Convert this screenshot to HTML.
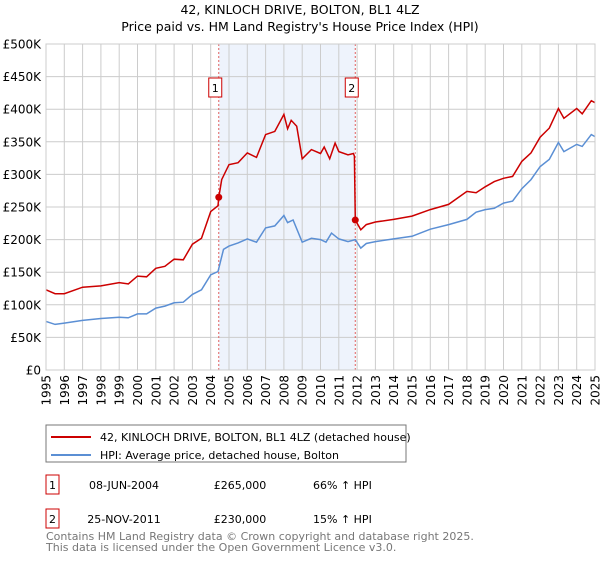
<!DOCTYPE html>
<html><head><meta charset="utf-8"><style>
body{margin:0;background:#fff;width:600px;height:560px;overflow:hidden;font-family:"Liberation Sans","DejaVu Sans",sans-serif}
svg text{font-family:"DejaVu Sans","Liberation Sans",sans-serif}
</style></head><body>
<svg id="c" width="600" height="560" xmlns="http://www.w3.org/2000/svg">
<text x="300" y="14" font-size="12.5" text-anchor="middle" fill="#000">42, KINLOCH DRIVE, BOLTON, BL1 4LZ</text>
<text x="300" y="31" font-size="12.5" text-anchor="middle" fill="#000">Price paid vs. HM Land Registry's House Price Index (HPI)</text>
<g id="plot"></g>
<rect x="46" y="425" width="360" height="37" fill="#fff" stroke="#777"/>
<line x1="51" y1="437" x2="91" y2="437" stroke="#cc0000" stroke-width="2"/>
<text x="100" y="441" font-size="11">42, KINLOCH DRIVE, BOLTON, BL1 4LZ (detached house)</text>
<line x1="51" y1="455" x2="91" y2="455" stroke="#5b8fd4" stroke-width="2"/>
<text x="100" y="459" font-size="11">HPI: Average price, detached house, Bolton</text>
<g>
<rect x="46" y="475" width="13" height="19" fill="#fff" stroke="#cc0000"/>
<text x="52.5" y="489" font-size="11" text-anchor="middle">1</text>
<text x="124" y="489" font-size="11" text-anchor="middle">08-JUN-2004</text>
<text x="240" y="489" font-size="11" text-anchor="middle">£265,000</text>
<text x="313" y="489" font-size="11" text-anchor="start">66% ↑ HPI</text>
</g>
<g>
<rect x="46" y="509" width="13" height="19" fill="#fff" stroke="#cc0000"/>
<text x="52.5" y="523" font-size="11" text-anchor="middle">2</text>
<text x="124" y="523" font-size="11" text-anchor="middle">25-NOV-2011</text>
<text x="240" y="523" font-size="11" text-anchor="middle">£230,000</text>
<text x="313" y="523" font-size="11" text-anchor="start">15% ↑ HPI</text>
</g>
<text x="46" y="540" font-size="11" fill="#777">Contains HM Land Registry data © Crown copyright and database right 2025.</text>
<text x="46" y="551" font-size="11" fill="#777">This data is licensed under the Open Government Licence v3.0.</text>
</svg>
<script>
const years=[1995,1996,1997,1998,1999,2000,2001,2002,2003,2004,2005,2006,2007,2008,2009,2010,2011,2012,2013,2014,2015,2016,2017,2018,2019,2020,2021,2022,2023,2024,2025];
const yTicks=[0,50,100,150,200,250,300,350,400,450,500];
const hpiT=[1995,1995.5,1996,1997,1998,1999,1999.5,2000,2000.5,2001,2001.5,2002,2002.5,2003,2003.5,2004,2004.4,2004.7,2005,2005.5,2006,2006.5,2007,2007.5,2008,2008.2,2008.5,2009,2009.5,2010,2010.3,2010.6,2011,2011.5,2011.9,2012.2,2012.5,2013,2014,2015,2016,2017,2018,2018.5,2019,2019.5,2020,2020.5,2021,2021.5,2022,2022.5,2023,2023.3,2024,2024.3,2024.8,2025];
const hpiV=[74.6,70,72,76,79,81,80,86,86,95,98,103,104,116,123,146,151,185,190,195,201,196,218,221,237,226,230,196,202,200,196,210,201,197,200,187,194,197,201,205,216,223,231,242,246,248,256,259,278,292,312,323,349,335,346,343,361,358];
const priceT=[1995,1995.5,1996,1997,1998,1999,1999.5,2000,2000.5,2001,2001.5,2002,2002.5,2003,2003.5,2004,2004.4,2004.44,2004.6,2005,2005.5,2006,2006.5,2007,2007.5,2008,2008.2,2008.4,2008.7,2009,2009.5,2010,2010.2,2010.5,2010.8,2011,2011.5,2011.8,2011.85,2011.9,2012.2,2012.5,2013,2014,2015,2016,2017,2018,2018.5,2019,2019.5,2020,2020.5,2021,2021.5,2022,2022.5,2023,2023.3,2024,2024.3,2024.8,2025];
const priceV=[123,117,117,127,129,134,132,144,143,156,159,170,169,193,202,243,252,265,292,315,318,333,326,361,366,392,370,383,374,324,338,332,342,324,348,335,330,332,328,230,215,223,227,231,236,246,254,274,272,281,289,294,297,320,333,357,371,401,386,401,393,413,410];
const saleT=[2004.44,2011.9];
const saleV=[265,230];
const saleLabels=["1","2"];
const X0=46,X1=595,Y0=370,Y1=44;
const xs=t=>X0+(t-1995)/30*(X1-X0);
const ys=v=>Y0-v/500*(Y0-Y1);
const NS="http://www.w3.org/2000/svg";
const g=document.getElementById('plot');
function mk(tag,attrs){const e=document.createElementNS(NS,tag);for(const k in attrs)e.setAttribute(k,attrs[k]);g.appendChild(e);return e;}
let sh=mk('rect',{x:xs(saleT[0]),y:Y1,width:xs(saleT[1])-xs(saleT[0]),height:Y0-Y1,fill:'#eef3fc'});


years.forEach(y=>{const l=mk('line',{x1:xs(y),x2:xs(y),y1:Y1,y2:Y0,stroke:'#cccccc','stroke-width':1});


const t=mk('text',{x:0,y:0,'font-size':12,'text-anchor':'end',transform:`translate(${xs(y)+4.5},375) rotate(-90)`});t.textContent=y;

});
yTicks.forEach(v=>{const l=mk('line',{x1:X0,x2:X1,y1:ys(v),y2:ys(v),stroke:'#cccccc','stroke-width':1});


const t=mk('text',{x:41,y:ys(v)+4.5,'font-size':12,'text-anchor':'end'});t.textContent=v===0?'£0':'£'+v+'K';

});
saleT.forEach((s,i)=>{const l=mk('line',{x1:xs(s),x2:xs(s),y1:Y1,y2:Y0,stroke:'#e06060','stroke-width':1,'stroke-dasharray':'2,2'});

});
function path(T,V,color,name){const d=T.map((t,i)=>(i?'L':'M')+xs(t).toFixed(1)+','+ys(V[i]).toFixed(1)).join('');
const p=mk('path',{d:d,fill:'none',stroke:color,'stroke-width':1.5});

}
path(hpiT,hpiV,'#5b8fd4','hpi-line');
path(priceT,priceV,'#cc0000','property-price-line');
saleT.forEach((s,i)=>{const c=mk('circle',{cx:xs(s),cy:ys(saleV[i]),r:3.5,fill:'#cc0000'});


const bx=xs(s)-3.5;
const r=mk('rect',{x:bx-6.5,y:78,width:13,height:19,fill:'#fff',stroke:'#cc0000'});


const t=mk('text',{x:bx,y:92,'font-size':11,'text-anchor':'middle'});t.textContent=saleLabels[i];

});
const fr=mk('rect',{x:X0,y:Y1,width:X1-X0,height:Y0-Y1,fill:'none',stroke:'#cccccc'});


</script>
</body></html>
